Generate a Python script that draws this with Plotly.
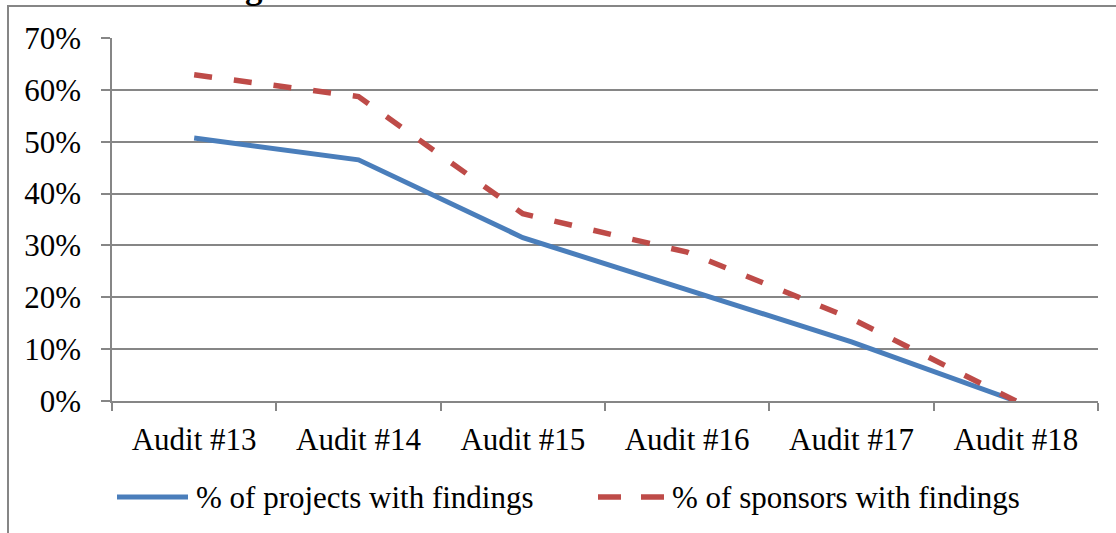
import plotly.graph_objects as go

categories = ["Audit #13", "Audit #14", "Audit #15", "Audit #16", "Audit #17", "Audit #18"]
projects_pct = [0.507, 0.465, 0.315, 0.214, 0.114, 0.0]
sponsors_pct = [0.629, 0.587, 0.361, 0.287, 0.159, 0.0]
series_names = ["% of projects with findings", "% of sponsors with findings"]
title_text = "Figure 4: Performance Trend for IRG Audits #13 - #18"

BLUE = "#4A7EBB"
RED = "#BE4B48"
GRID = "#868686"
FONT = "Liberation Serif, Times New Roman, serif"

W, H = 1116, 533
L, R, T, B = 112, 1098, 38, 401


def px(x):
    return (x - L) / (R - L)


def py(y):
    return 1 - (y - T) / (B - T)


fig = go.Figure()
fig.add_trace(go.Scatter(x=categories, y=projects_pct, mode="lines", name=series_names[0],
                         line=dict(color=BLUE, width=5), showlegend=False))
fig.add_trace(go.Scatter(x=categories, y=sponsors_pct, mode="lines", name=series_names[1],
                         line=dict(color=RED, width=5.5, dash="18px,22px"), showlegend=False))

shapes = [
    # outer chart border
    dict(type="rect", xref="paper", yref="paper", x0=px(8), x1=px(1125), y0=py(545), y1=py(6),
         line=dict(color=GRID, width=2), fillcolor="rgba(0,0,0,0)", layer="below"),
    # legend samples
    dict(type="line", xref="paper", yref="paper", x0=px(117), x1=px(188), y0=py(497), y1=py(497),
         line=dict(color=BLUE, width=5)),
    dict(type="line", xref="paper", yref="paper", x0=px(598), x1=px(664), y0=py(497), y1=py(497),
         line=dict(color=RED, width=5.5, dash="23px,20px")),
]

annotations = [
    dict(text=series_names[0], xref="paper", yref="paper", x=px(194), y=py(497),
         xanchor="left", yanchor="middle", showarrow=False, font=dict(family=FONT, size=31, color="black")),
    dict(text=series_names[1], xref="paper", yref="paper", x=px(670), y=py(497),
         xanchor="left", yanchor="middle", showarrow=False, font=dict(family=FONT, size=31, color="black")),
    dict(text="<b>" + title_text + "</b>", xref="paper", yref="paper", x=px(621), y=py(8),
         xanchor="center", yanchor="bottom", showarrow=False, font=dict(family=FONT, size=35, color="black")),
]

fig.update_layout(
    width=W, height=H,
    margin=dict(l=L, r=W - R, t=T, b=H - B, pad=0),
    paper_bgcolor="white", plot_bgcolor="white",
    font=dict(family=FONT, size=31, color="black"),
    shapes=shapes, annotations=annotations,
    showlegend=False,
)
fig.update_xaxes(type="category", range=[-0.5, 5.5], showgrid=False,
                 showline=True, linecolor=GRID, linewidth=1.5,
                 ticks="outside", tickson="boundaries", ticklen=8, tickcolor=GRID, tickwidth=1.5,
                 ticklabelstandoff=10, tickfont=dict(family=FONT, size=31, color="black"))
fig.update_yaxes(range=[0, 0.7], dtick=0.1, tick0=0, tickformat=".0%",
                 showgrid=True, gridcolor=GRID, gridwidth=1.5,
                 showline=True, linecolor=GRID, linewidth=1.5, zeroline=False,
                 ticks="outside", ticklen=9, tickcolor=GRID, tickwidth=1.5,
                 ticklabelstandoff=14, tickfont=dict(family=FONT, size=31, color="black"))

fig.write_html("out.html", config={"displayModeBar": False},
               post_script="document.body.style.margin='0';document.body.style.overflow='hidden';")
